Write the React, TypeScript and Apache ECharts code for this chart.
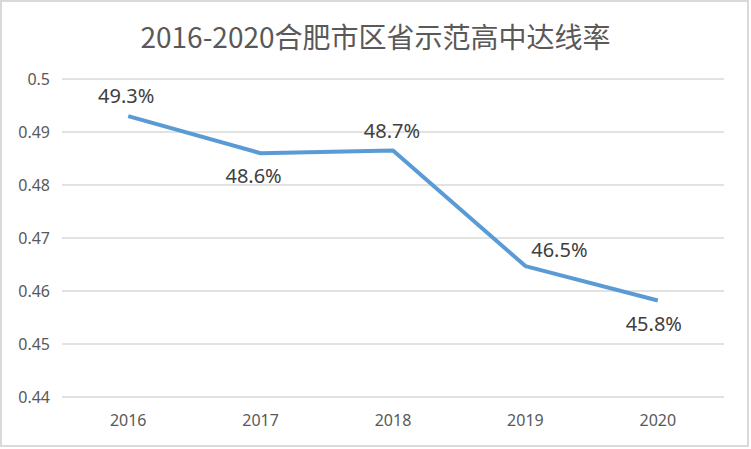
import React, { useEffect, useRef } from "react";
import * as echarts from "echarts";

const titleText = "2016-2020合肥市区省示范高中达线率";
const years = ["2016", "2017", "2018", "2019", "2020"];
const rates = [0.493, 0.486, 0.4865, 0.4647, 0.4582];
const rateLabels = ["49.3%", "48.6%", "48.7%", "46.5%", "45.8%"];
const labelPositions = ["top", "bottom", "top", "top", "bottom"];
const labelOffsets = [[-2, 0], [-7, 2], [-1, 0], [34, 4], [-4, 2]];

export default function App() {
  const ref = useRef<HTMLDivElement>(null);
  useEffect(() => {
    document.body.style.margin = "0";
    const chart = echarts.init(ref.current!, null, { renderer: "svg" });
    const font = "'Noto Sans', 'Noto Sans CJK SC', sans-serif";
    chart.setOption({
      animation: false,
      backgroundColor: "#ffffff",
      title: {
        text: titleText,
        left: "center",
        top: 17,
        textStyle: {
          fontFamily: "'Noto Sans CJK SC', 'Noto Sans', sans-serif",
          fontSize: 28,
          fontWeight: "normal",
          color: "#595959",
        },
      },
      graphic: [
        {
          type: "rect",
          shape: { x: 1, y: 1, width: 747, height: 445 },
          style: { fill: "none", stroke: "#d9d9d9", lineWidth: 2 },
          silent: true,
        },
      ],
      grid: { left: 62, right: 27, top: 79, bottom: 52 },
      xAxis: {
        type: "category",
        data: years,
        axisLine: { show: false },
        axisTick: { show: false },
        axisLabel: { color: "#595959", fontSize: 16, fontFamily: font, margin: 15 },
      },
      yAxis: {
        type: "value",
        min: 0.44,
        max: 0.5,
        interval: 0.01,
        axisLine: { show: false },
        axisTick: { show: false },
        axisLabel: {
          color: "#595959",
          fontSize: 16,
          fontFamily: font,
          margin: 12,
          formatter: (v: number) => String(parseFloat(v.toFixed(2))),
        },
        splitLine: { lineStyle: { color: "#d9d9d9", width: 1.5 } },
      },
      series: [
        {
          type: "line",
          data: rates.map((v, i) => ({
            value: v,
            label: {
              position: labelPositions[i],
              offset: labelOffsets[i],
              formatter: rateLabels[i],
            },
          })),
          symbol: "circle",
          symbolSize: 1,
          showSymbol: true,
          itemStyle: { color: "rgba(91,155,213,0)" },
          lineStyle: { color: "#5b9bd5", width: 4 },
          label: {
            show: true,
            fontSize: 20,
            fontFamily: font,
            color: "#404040",
            distance: 10,
          },
        },
      ],
    });
    return () => chart.dispose();
  }, []);
  return <div ref={ref} style={{ width: 751, height: 449 }} />;
}
